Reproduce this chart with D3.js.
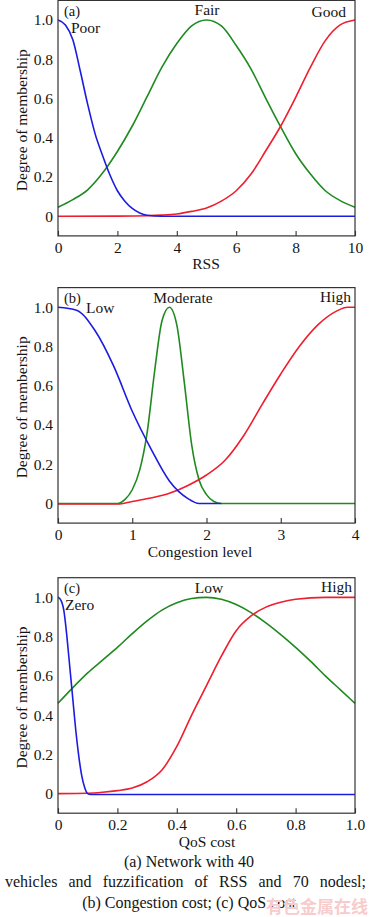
<!DOCTYPE html>
<html>
<head>
<meta charset="utf-8">
<style>
  body { margin: 0; background: #fff; }
  svg, svg text { font-family: "Liberation Serif", "Times New Roman", Times, serif; }
  svg text { fill: #141414; }
</style>
</head>
<body>
<script src="https://cdn.jsdelivr.net/npm/d3@7"></script>
<svg id="fig" width="377" height="917"></svg>
<script>
// ---- data ----
const degreeTicks = [0, 0.2, 0.4, 0.6, 0.8, 1.0]

// (a) RSS
const rssSets = ["Poor", "Fair", "Good"]
const rssTicks = [0, 2, 4, 6, 8, 10]
const rssPoorX = [0, 0.25, 0.5, 0.75, 1, 1.25, 1.5, 1.75, 2, 2.25, 2.5, 2.75, 3, 3.5, 4, 6, 8, 10]
const rssPoor = [1.0, 0.975, 0.9, 0.74, 0.57, 0.42, 0.31, 0.21, 0.13, 0.077, 0.04, 0.017, 0.005, 0, 0, 0, 0, 0]
const rssFairX = [0, 0.5, 1, 1.5, 2, 2.5, 3, 3.5, 4, 4.5, 5, 5.5, 6, 6.5, 7, 7.5, 8, 8.5, 9, 9.5, 10]
const rssFair = [0.046, 0.085, 0.135, 0.22, 0.33, 0.46, 0.61, 0.76, 0.88, 0.97, 1.0, 0.97, 0.87, 0.75, 0.6, 0.455, 0.32, 0.215, 0.13, 0.08, 0.046]
const rssGoodX = [0, 2, 3, 3.5, 4, 4.5, 5, 5.5, 6, 6.5, 7, 7.5, 8, 8.5, 9, 9.5, 10]
const rssGood = [0, 0.001, 0.003, 0.006, 0.012, 0.025, 0.042, 0.077, 0.13, 0.215, 0.335, 0.46, 0.605, 0.76, 0.895, 0.975, 1.0]

// (b) Congestion level
const congSets = ["Low", "Moderate", "High"]
const congTicks = [0, 1, 2, 3, 4]
const congLowX = [0, 0.25, 0.5, 0.75, 1, 1.25, 1.5, 1.75, 1.9, 2.2]
const congLow = [1.0, 0.985, 0.88, 0.7, 0.47, 0.28, 0.115, 0.025, 0, 0]
const congModX = [0, 0.8, 0.9, 1.0, 1.1, 1.2, 1.3, 1.4, 1.5, 1.6, 1.7, 1.8, 1.9, 2.0, 2.1, 2.2, 4]
const congMod = [0, 0, 0.02, 0.07, 0.17, 0.36, 0.67, 0.93, 1.0, 0.91, 0.62, 0.3, 0.12, 0.045, 0.01, 0, 0]
const congHighX = [0, 0.8, 1.0, 1.25, 1.5, 1.75, 2.0, 2.25, 2.5, 2.75, 3.0, 3.25, 3.5, 3.75, 3.9, 4.0]
const congHigh = [-0.003, -0.003, 0.01, 0.028, 0.052, 0.092, 0.145, 0.22, 0.345, 0.505, 0.66, 0.8, 0.91, 0.98, 1.0, 1.0]

// (c) QoS cost
const qosSets = ["Zero", "Low", "High"]
const qosTicks = [0, 0.2, 0.4, 0.6, 0.8, 1.0]
const qosZeroX = [0, 0.01, 0.02, 0.03, 0.04, 0.05, 0.06, 0.07, 0.08, 0.09, 0.1, 0.11, 1.0]
const qosZero = [1.0, 0.985, 0.93, 0.8, 0.64, 0.48, 0.32, 0.19, 0.09, 0.03, 0, -0.005, -0.005]
const qosLowX = [0, 0.05, 0.1, 0.15, 0.2, 0.25, 0.3, 0.35, 0.4, 0.45, 0.5, 0.55, 0.6, 0.65, 0.7, 0.75, 0.8, 0.85, 0.9, 0.95, 1.0]
const qosLow = [0.46, 0.54, 0.615, 0.68, 0.745, 0.815, 0.88, 0.935, 0.972, 0.994, 1.0, 0.99, 0.963, 0.922, 0.87, 0.81, 0.745, 0.675, 0.6, 0.53, 0.46]
const qosHighX = [0, 0.1, 0.15, 0.2, 0.25, 0.3, 0.35, 0.4, 0.45, 0.5, 0.55, 0.6, 0.65, 0.7, 0.75, 0.8, 0.9, 1.0]
const qosHigh = [0, 0.002, 0.007, 0.015, 0.028, 0.06, 0.12, 0.24, 0.4, 0.55, 0.7, 0.83, 0.905, 0.95, 0.975, 0.99, 1.0, 1.0]

const captionLine1 = "(a) Network with 40"
const captionLine2 = "vehicles and fuzzification of RSS and 70 nodesl;"
const captionLine3 = "(b) Congestion cost; (c) QoS cost"

// ---- layout ----
const serif = "'Liberation Serif', 'Times New Roman', Times, serif"
const blue = "#1c1ce0", green = "#1f8a1f", red = "#ee1e2e"
const left = 58, right = 355, panelH = 235.5
const fmt = d => d === 0 ? "0" : d3.format(".1f")(d)

const panels = [
  {
    top: 0.4, tag: "(a)", domain: [0, 10], ticks: rssTicks, tickFmt: d3.format("d"),
    xLabel: "RSS", xLabelX: 206,
    curves: [[rssFairX, rssFair, green], [rssGoodX, rssGood, red], [rssPoorX, rssPoor, blue]],
    names: [[rssSets[0], 71, 32.5, "start"], [rssSets[1], 207, 15, "middle"], [rssSets[2], 346, 17, "end"]],
    tagY: 15.5
  },
  {
    top: 287.6, tag: "(b)", domain: [0, 4], ticks: congTicks, tickFmt: d3.format("d"),
    xLabel: "Congestion level", xLabelX: 200,
    curves: [[congModX, congMod, green], [congHighX, congHigh, red], [congLowX, congLow, blue]],
    names: [[congSets[0], 86, 25.5, "start"], [congSets[1], 183, 15.5, "middle"], [congSets[2], 351, 14.5, "end"]],
    tagY: 15.5
  },
  {
    top: 577.7, tag: "(c)", domain: [0, 1], ticks: qosTicks, tickFmt: fmt,
    xLabel: "QoS cost", xLabelX: 207,
    curves: [[qosLowX, qosLow, green], [qosHighX, qosHigh, red], [qosZeroX, qosZero, blue]],
    names: [[qosSets[0], 65, 32.5, "start"], [qosSets[1], 209, 15.5, "middle"], [qosSets[2], 352, 14.5, "end"]],
    tagY: 15.5
  }
]

const svg = d3.select("#fig")

panels.forEach(p => {
  const bottom = p.top + panelH
  const x = d3.scaleLinear().domain(p.domain).range([left, right])
  const y = d3.scaleLinear().domain([-0.1, 1.1]).range([bottom, p.top])
  const g = svg.append("g")

  const line = d3.line().x(d => x(d[0])).y(d => y(d[1])).curve(d3.curveMonotoneX)
  p.curves.forEach(([xs, ys, color]) => {
    g.append("path")
      .datum(xs.map((v, i) => [v, ys[i]]))
      .attr("fill", "none")
      .attr("stroke", color)
      .attr("stroke-width", 1.6)
      .attr("stroke-linejoin", "round")
      .attr("d", line)
  })

  g.append("rect")
    .attr("x", left).attr("y", p.top)
    .attr("width", right - left).attr("height", panelH)
    .attr("fill", "none").attr("stroke", "#333").attr("stroke-width", 1.2)

  g.append("g")
    .attr("transform", "translate(0," + bottom + ")")
    .call(d3.axisBottom(x).tickValues(p.ticks).tickFormat(p.tickFmt)
      .tickSizeInner(-5).tickSizeOuter(0).tickPadding(6))
    .attr("font-family", serif)
    .call(a => a.select(".domain").remove())
    .call(a => a.selectAll("line").attr("stroke", "#333").attr("stroke-width", 1.1))
    .call(a => a.selectAll("text").attr("font-size", 15.5).style("font-family", serif))

  g.append("g")
    .attr("transform", "translate(" + left + ",0)")
    .call(d3.axisLeft(y).tickValues(degreeTicks).tickFormat(fmt).tickSize(0).tickPadding(5))
    .attr("font-family", serif)
    .call(a => a.select(".domain").remove())
    .call(a => a.selectAll("text").attr("font-size", 15.5).style("font-family", serif))

  g.append("text")
    .attr("transform", "translate(27," + (p.top + panelH / 2 + 2) + ") rotate(-90)")
    .attr("text-anchor", "middle").attr("font-size", 15.5)
    .style("font-family", serif)
    .text("Degree of membership")

  g.append("text")
    .attr("x", p.xLabelX).attr("y", bottom + 33.5)
    .attr("text-anchor", "middle").attr("font-size", 15.5)
    .style("font-family", serif)
    .text(p.xLabel)

  g.append("text").attr("x", 64).attr("y", p.top + p.tagY)
    .attr("font-size", 14.5).style("font-family", serif).text(p.tag)
  p.names.forEach(([name, nx, ny, anchor]) => {
    g.append("text").attr("x", nx).attr("y", p.top + ny)
      .attr("text-anchor", anchor).attr("font-size", 15.5)
      .style("font-family", serif).text(name)
  })
})

// caption
svg.append("text").attr("x", 189).attr("y", 867).attr("text-anchor", "middle")
  .attr("font-size", 16).style("font-family", serif).text(captionLine1)
svg.append("text").attr("x", 189).attr("y", 907.5).attr("text-anchor", "middle")
  .attr("font-size", 16).style("font-family", serif).text(captionLine3)

// justified middle line
const words = captionLine2.split(" ")
const wg = svg.append("g")
const nodes = words.map(w => wg.append("text").attr("y", 887).attr("font-size", 16)
  .style("font-family", serif).text(w))
const widths = nodes.map(n => n.node().getComputedTextLength())
const gap = (366 - 5 - d3.sum(widths)) / (words.length - 1)
let cx = 5
nodes.forEach((n, i) => { n.attr("x", cx); cx += widths[i] + gap })

// faint site watermark
svg.append("text").attr("x", 368).attr("y", 913).attr("text-anchor", "end")
  .attr("font-size", 17).attr("font-weight", "bold")
  .style("font-family", "'Noto Sans CJK SC', sans-serif").style("fill", "#f7cccc")
  .text("有色金属在线")
</script>
</body>
</html>
